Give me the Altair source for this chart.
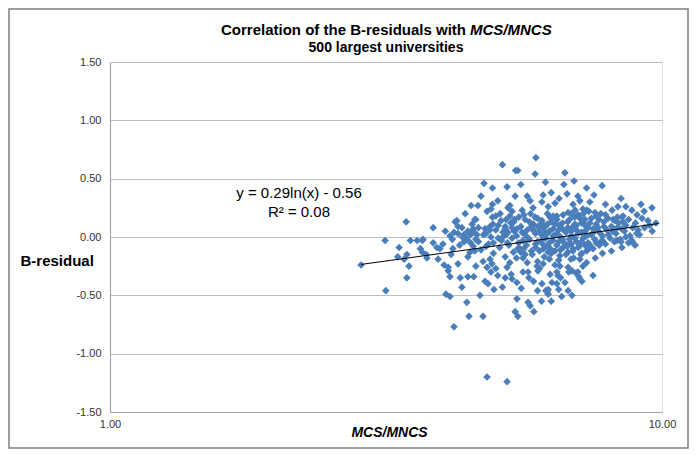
import altair as alt
import pandas as pd

# ---- data (x = MCS/MNCS, y = B-residual) ----
sparse_left = [
    (2.85, -0.24), (3.15, -0.03), (3.16, -0.46), (3.34, -0.09), (3.32, -0.17),
    (3.45, -0.15), (3.41, -0.19), (3.48, -0.25), (3.45, -0.35), (3.50, -0.03),
    (3.60, -0.03), (3.68, -0.03), (3.69, -0.02), (3.65, -0.10), (3.68, -0.13),
    (3.74, -0.15), (3.75, -0.18), (3.91, -0.09), (3.96, -0.10), (4.01, -0.06),
    (3.93, -0.19), (4.03, -0.24), (4.10, -0.26), (4.10, -0.29), (4.13, -0.34),
    (4.06, -0.49), (4.13, -0.51), (4.17, -0.02), (4.18, -0.10), (4.20, -0.77),
    (3.44, 0.13), (3.85, 0.08), (4.22, 0.13), (4.27, 0.09), (4.13, 0.01),
    (4.38, 0.02), (4.43, -0.02), (4.53, 0.11), (4.60, 0.15), (4.55, 0.07),
    (4.05, 0.05), (3.85, -0.05), (4.15, -0.15),
]
upper_mid = [
    (5.14, 0.62), (4.76, 0.46), (4.93, 0.42), (5.43, 0.57), (5.42, 0.35),
    (4.70, 0.35), (5.04, 0.31), (4.51, 0.27), (4.64, 0.27), (4.82, 0.22),
    (4.88, 0.09), (4.93, 0.17), (5.09, 0.20), (5.22, 0.15), (5.35, 0.22),
    (5.91, 0.68), (5.48, 0.57), (5.89, 0.54), (5.24, 0.43), (6.09, 0.36),
    (5.77, 0.31), (6.06, 0.30), (4.93, 0.28), (5.26, 0.25), (5.58, 0.23),
    (5.84, 0.25), (6.22, 0.26), (4.25, 0.14), (4.58, 0.15), (5.00, 0.18),
    (5.11, 0.14), (4.94, 0.11), (5.30, 0.18), (5.39, 0.13), (5.65, 0.15),
    (5.89, 0.17), (6.06, 0.14), (6.27, 0.17), (4.34, 0.08), (4.45, 0.05),
    (4.78, 0.07), (5.20, 0.09), (5.26, 0.04), (5.46, 0.07), (5.58, 0.04),
    (5.81, 0.07), (5.96, 0.09), (6.14, 0.04), (6.35, 0.07), (4.27, 0.03),
    (4.62, 0.02), (5.30, 0.27), (5.70, 0.35), (4.40, 0.20), (4.90, 0.24),
    (5.55, 0.45), (6.15, 0.47),
]
upper_right = [
    (6.67, 0.55), (6.93, 0.48), (6.64, 0.45), (7.79, 0.44), (6.73, 0.37),
    (7.53, 0.36), (7.04, 0.35), (7.10, 0.31), (6.51, 0.33), (8.43, 0.33),
    (6.40, 0.29), (9.16, 0.28), (8.82, 0.23), (9.59, 0.25), (9.28, 0.22),
    (9.01, 0.19), (8.12, 0.23), (8.32, 0.26), (9.43, 0.14), (9.75, 0.12),
    (7.31, 0.23), (7.56, 0.21), (7.75, 0.20), (8.46, 0.17), (8.22, 0.14),
    (7.98, 0.16), (8.50, 0.18), (7.69, 0.15), (7.37, 0.22), (7.19, 0.24),
    (6.96, 0.23), (6.76, 0.21), (6.45, 0.18), (6.30, 0.38), (6.90, 0.28),
    (7.40, 0.30), (7.90, 0.28), (8.60, 0.26), (7.30, 0.42),
]
lower_right = [
    (8.75, 0.01), (8.82, -0.03), (8.94, -0.07), (8.46, -0.09), (8.29, -0.03),
    (7.75, -0.04), (7.57, -0.18), (7.34, -0.09), (7.13, -0.15), (6.90, -0.12),
    (6.73, -0.08), (6.45, -0.30), (6.27, -0.32), (8.43, -0.04), (8.90, -0.06),
    (6.58, -0.51), (6.87, -0.50), (6.76, -0.46), (6.48, -0.33), (6.67, -0.39),
    (7.07, -0.34), (7.16, -0.38), (7.50, -0.33), (7.19, -0.25), (6.53, -0.16),
    (6.76, -0.26), (6.87, -0.29), (6.99, -0.31), (6.53, -0.25), (6.45, -0.40),
    (7.37, -0.10), (7.10, -0.19), (6.84, -0.19), (6.19, -0.47), (6.22, -0.45),
    (6.78, -0.30), (7.10, -0.36), (5.14, -0.43), (5.56, -0.44), (6.06, -0.40),
    (6.32, -0.39), (7.04, -0.30), (7.30, -0.22), (7.80, -0.14), (8.10, -0.12),
    (8.70, -0.05), (6.55, -0.35), (6.50, -0.45),
]
lower_mid = [
    (4.27, -0.23), (4.31, -0.35), (4.34, -0.43), (4.45, -0.34), (4.56, -0.34),
    (4.68, -0.50), (4.43, -0.56), (4.47, -0.68), (4.74, -0.68), (4.45, -0.17),
    (4.49, -0.13), (4.58, -0.12), (4.74, -0.21), (4.82, -0.26), (4.78, -0.38),
    (4.84, -0.40), (4.96, -0.45), (5.00, -0.27), (5.04, -0.33), (5.24, -0.26),
    (5.33, -0.32), (5.35, -0.36), (5.46, -0.39), (5.72, -0.30), (5.74, -0.35),
    (5.65, -0.15), (5.53, -0.10), (5.94, -0.25), (6.16, -0.46), (6.22, -0.49),
    (5.46, -0.53), (5.72, -0.56), (5.77, -0.59), (5.86, -0.64), (5.42, -0.64),
    (5.48, -0.68), (4.88, -0.19), (4.92, -0.23), (6.22, -0.13), (6.09, -0.23),
    (5.96, -0.29), (4.82, -1.20), (5.24, -1.24), (6.00, -0.27), (5.85, -0.38),
    (5.60, -0.30), (5.20, -0.35), (4.60, -0.25), (4.90, -0.30), (6.30, -0.55),
    (5.95, -0.46), (6.05, -0.55),
]
dense_core = [
    (5.62, 0.19), (5.95, 0.16), (6.20, 0.20), (6.45, 0.15), (6.62, 0.19),
    (6.95, 0.17), (7.20, 0.20), (7.45, 0.16), (7.90, 0.19), (8.15, 0.15),
    (6.05, 0.12), (5.75, 0.13), (5.50, 0.17), (5.78, 0.20), (6.35, 0.18),
    (6.80, 0.15), (7.05, 0.19), (7.60, 0.18), (8.30, 0.17), (8.70, 0.15),
    (9.20, 0.16),
    (5.05, 0.10), (5.32, 0.12), (5.55, 0.09), (5.85, 0.11), (6.10, 0.08),
    (6.30, 0.13), (6.50, 0.10), (6.75, 0.13), (6.90, 0.09), (7.15, 0.12),
    (7.35, 0.08), (7.60, 0.11), (7.85, 0.13), (8.10, 0.09), (8.35, 0.12),
    (8.60, 0.10), (8.95, 0.12), (6.60, 0.07), (7.00, 0.06), (7.50, 0.07),
    (8.85, 0.08), (9.50, 0.10), (8.45, 0.07), (7.85, 0.09), (7.25, 0.10),
    (6.95, 0.11), (6.40, 0.11), (6.20, 0.11),
    (4.55, 0.05), (4.80, 0.03), (5.00, 0.06), (5.22, 0.02), (5.40, 0.05),
    (5.62, 0.03), (5.85, 0.06), (6.05, 0.02), (6.25, 0.05), (6.45, 0.03),
    (6.70, 0.04), (6.85, 0.01), (7.05, 0.03), (7.25, 0.05), (7.45, 0.02),
    (7.70, 0.04), (7.95, 0.06), (8.25, 0.03), (8.55, 0.05), (9.05, 0.06),
    (9.30, 0.08), (6.15, 0.09), (5.70, 0.00), (9.00, 0.03), (8.15, 0.05),
    (5.90, 0.03), (4.88, 0.06), (4.50, 0.02), (9.10, 0.02), (9.60, 0.05),
    (4.42, -0.01), (4.65, -0.04), (4.90, 0.00), (5.12, -0.03), (5.35, -0.01),
    (5.50, -0.05), (5.75, -0.02), (5.95, -0.04), (6.15, -0.01), (6.35, -0.03),
    (6.55, 0.00), (6.65, -0.05), (6.80, -0.02), (7.00, -0.04), (7.20, -0.01),
    (7.35, -0.05), (7.55, -0.02), (7.80, -0.03), (8.05, -0.01), (8.40, -0.02),
    (8.60, 0.00), (5.45, 0.01), (5.25, -0.05), (5.05, -0.01), (4.38, -0.04),
    (6.60, -0.02), (7.60, -0.05), (7.90, -0.06), (8.20, -0.04),
    (4.55, -0.08), (4.85, -0.06), (5.08, -0.09), (5.28, -0.07), (5.48, -0.10),
    (5.68, -0.07), (5.90, -0.09), (6.08, -0.06), (6.28, -0.10), (6.45, -0.07),
    (6.62, -0.09), (6.85, -0.06), (7.05, -0.09), (7.25, -0.07), (7.50, -0.10),
    (7.70, -0.07), (6.00, -0.12), (5.55, -0.13), (4.80, -0.08), (5.62, -0.10),
    (5.80, -0.12), (6.20, -0.08), (6.40, -0.12), (6.90, -0.10), (7.10, -0.07),
    (7.30, -0.12), (6.75, -0.13),
    (4.95, -0.14), (5.20, -0.17), (5.38, -0.13), (5.60, -0.18), (5.82, -0.15),
    (6.12, -0.17), (6.30, -0.14), (6.50, -0.20), (6.70, -0.15), (6.92, -0.18),
    (7.15, -0.14), (5.95, -0.21), (6.40, -0.24), (5.30, -0.22), (4.70, -0.11),
    (6.25, -0.19), (5.70, -0.22), (5.45, -0.18),
    (4.35, 0.00), (4.60, -0.02), (4.75, 0.02), (4.50, -0.05), (4.95, -0.05),
    (4.20, 0.04), (4.30, -0.07), (4.65, 0.08), (5.15, 0.04), (5.40, 0.15),
    (5.20, 0.07),
]
dense_center = [
    (5.70, 0.06), (5.80, 0.09), (6.00, 0.05), (6.20, 0.03), (6.35, 0.01),
    (6.50, 0.06), (6.60, 0.12), (6.75, 0.08), (6.85, 0.05), (7.00, 0.10),
    (7.15, 0.04), (7.30, 0.01), (7.40, 0.12), (7.55, 0.05), (7.65, 0.08),
    (7.80, 0.01), (5.90, -0.06), (6.05, -0.03), (6.25, -0.05), (6.50, -0.04),
    (6.75, -0.07), (6.95, -0.01), (7.15, -0.04), (7.40, -0.07), (6.10, -0.10),
    (6.55, -0.11), (6.30, 0.16), (6.85, 0.20), (7.25, 0.15), (5.60, -0.03),
    (5.35, 0.08), (5.15, 0.00), (8.00, 0.02), (8.30, 0.08), (8.50, 0.13),
    (7.10, 0.16),
]

# trendline end points as drawn in the reference (log fit)
trend_x = [2.85, 9.85]
trend_y = [-0.235, 0.115]

y_ticks = [-1.5, -1.0, -0.5, 0.0, 0.5, 1.0, 1.5]
x_ticks = [1, 10]

# ---------------------------------------------------------------------------
groups = (sparse_left + upper_mid + upper_right + lower_right + lower_mid
          + dense_core + dense_center)
pts = pd.DataFrame(groups, columns=["mcs", "bres"])
trend = pd.DataFrame({"mcs": trend_x, "bres": trend_y})
one = pd.DataFrame({"a": [0]})

FONT = "Liberation Sans"
W, H = 552, 350
HYPHEN = "replace(datum.label, '\u2212', '-')"

x_enc = alt.X(
    "mcs:Q",
    scale=alt.Scale(type="log", domain=[1, 10], nice=False),
    axis=alt.Axis(
        values=x_ticks, format=".2f", grid=False, ticks=False,
        domainColor="#A6A6A6", domainWidth=1.2,
        labelFont=FONT, labelFontSize=11, labelColor="#333333", labelPadding=6,
        labelFlush=False,
        title="MCS/MNCS", titleFont=FONT, titleFontSize=14, titleFontWeight="bold",
        titleFontStyle="italic", titleColor="#000000",
        titleX=279, titleY=20, titleBaseline="middle", titleAnchor="middle",
        titleAlign="center",
    ),
)
y_enc = alt.Y(
    "bres:Q",
    scale=alt.Scale(domain=[-1.5, 1.5], nice=False, zero=False),
    axis=alt.Axis(
        values=y_ticks, format=".2f", labelExpr=HYPHEN,
        grid=True, gridColor="#BEBEBE", gridWidth=1,
        ticks=False, domainColor="#A6A6A6", domainWidth=1.2,
        labelFont=FONT, labelFontSize=11, labelColor="#333333", labelPadding=9,
        title="B-residual", titleFont=FONT, titleFontSize=15, titleFontWeight="bold",
        titleColor="#000000", titleAngle=0, titleAlign="left",
        titleBaseline="middle", titleX=-90, titleY=198,
    ),
)

points = alt.Chart(pts).mark_point(
    shape="diamond", filled=True, size=58, color="#4A7EBB", opacity=1
).encode(x=x_enc, y=y_enc)

line = alt.Chart(trend).mark_line(color="#000000", strokeWidth=1).encode(
    x=alt.X("mcs:Q"), y=alt.Y("bres:Q")
)

def label(text, x, y, size, weight="normal", style="normal", align="center"):
    return alt.Chart(one).mark_text(
        text=text, font=FONT, fontSize=size, fontWeight=weight, fontStyle=style,
        align=align, baseline="middle", color="#000000",
    ).encode(x=alt.value(x), y=alt.value(y))

title1a = label("Correlation of the B-residuals with", 356, -32, 15, "bold", align="right")
title1b = label("MCS/MNCS", 360, -32, 15, "bold", "italic", align="left")
title2 = label("500 largest universities", 276, -14, 14, "bold")
eq1 = label("y = 0.29ln(x) - 0.56", 189, 131, 15)
eq2 = label("R\u00b2 = 0.08", 189, 150, 15)

border = alt.Chart(one).mark_rect(
    fill="#FFFFFF", fillOpacity=0, stroke="#7F7F7F", strokeWidth=1.5
).encode(x=alt.value(-101), x2=alt.value(578), y=alt.value(-53), y2=alt.value(386))

chart = alt.layer(points, line, title1a, title1b, title2, eq1, eq2, border).properties(
    width=W, height=H,
    padding={"left": 102, "top": 54, "right": 27, "bottom": 37},
    autosize=alt.AutoSizeParams(type="none"),
).configure_view(stroke=None).configure(background="#FFFFFF")

chart.save("out.html", embed_options={"renderer": "svg", "actions": False})
